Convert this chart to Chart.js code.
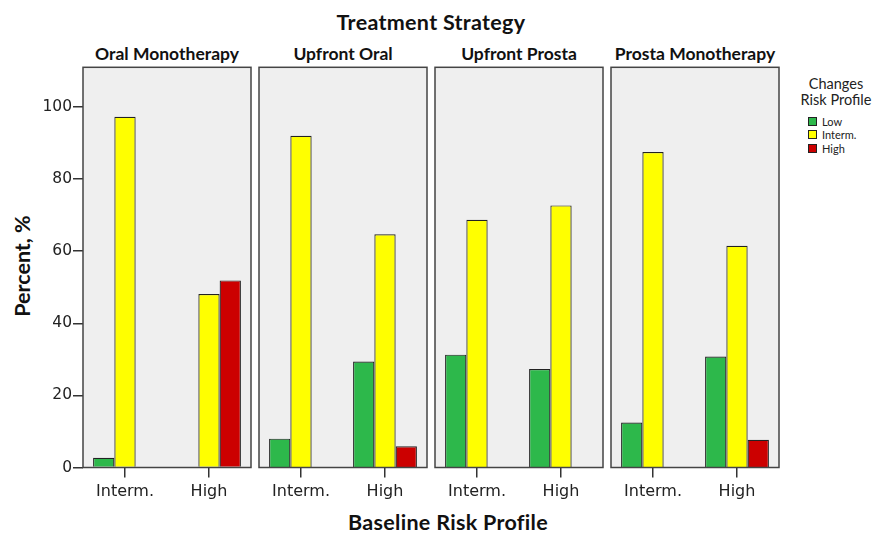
<!DOCTYPE html>
<html>
<head>
<meta charset="utf-8">
<script src="https://cdn.jsdelivr.net/npm/chart.js@4/dist/chart.umd.min.js"></script>
<style>
  body { margin:0; background:#fff; width:874px; height:533px; position:relative; overflow:hidden; font-family:Lato, "Open Sans", sans-serif; color:#111; }
  .lbl { position:absolute; white-space:nowrap; transform:translate(-50%,-50%); }
  canvas { position:absolute; }
  .legend { position:absolute; left:797px; top:76px; width:80px; font-family:Lato, sans-serif; color:#222; }
  .legend .ttl { text-align:center; font-size:14.5px; line-height:15.5px; margin-left:-2px; }
  .legend .item { position:relative; height:13.3px; font-size:11px; line-height:13px; padding-left:25px; }
  .legend .sw { position:absolute; left:11px; top:2px; width:9px; height:9px; border:1px solid #222; box-sizing:border-box; }
</style>
</head>
<body>
<div class="lbl" style="left:431px;top:22px;font-weight:bold;font-size:21.5px;letter-spacing:0.3px;">Treatment Strategy</div>
<div class="lbl" style="left:448px;top:522px;font-weight:bold;font-size:21.5px;letter-spacing:0.3px;">Baseline Risk Profile</div>
<div class="lbl" style="left:22px;top:266px;font-weight:bold;font-size:21.5px;transform:translate(-50%,-50%) rotate(-90deg);">Percent, %</div>
<div id="titles"></div>
<div class="legend" id="legend">
  <div class="ttl">Changes<br>Risk Profile</div>
  <div style="height:8px"></div>
</div>
<div id="charts"></div>
<script>
// Treatment strategies (one panel each) and the baseline risk groups on each x axis
const strategies = ['Oral Monotherapy', 'Upfront Oral', 'Upfront Prosta', 'Prosta Monotherapy'];
const baselineRisk = ['Interm.', 'High'];
const changeLabels = ['Low', 'Interm.', 'High'];

// Percent of patients by changed risk profile, per strategy: [baseline Interm., baseline High]
const lowPct    = [[2.7, 0],     [8.0, 29.4],  [31.3, 27.3], [12.5, 30.8]];
const intermPct = [[97.3, 48.1], [92.0, 64.7], [68.7, 72.7], [87.5, 61.5]];
const highPct   = [[0, 51.9],    [0, 5.9],     [0, 0],       [0, 7.7]];

const yTicks = [0, 20, 40, 60, 80, 100];

const changeColors = ['#2db84b', '#ffff00', '#cc0000'];
const seriesPct = [lowPct, intermPct, highPct];

// panel placement on the page
const panelLeft = [83, 259, 435, 611];
const panelWidth = 168;
const canvasTop = 60;
const canvasHeight = 440;

// legend
const legend = document.getElementById('legend');
changeLabels.forEach((name, i) => {
  const d = document.createElement('div');
  d.className = 'item';
  d.innerHTML = '<span class="sw" style="background:' + changeColors[i] + '"></span>' + name;
  legend.appendChild(d);
});

// panel titles
const titles = document.getElementById('titles');
strategies.forEach((s, i) => {
  const d = document.createElement('div');
  d.className = 'lbl';
  d.style.cssText = 'left:' + (panelLeft[i] + panelWidth / 2) + 'px;top:53px;font-weight:bold;font-size:17.5px;';
  d.textContent = s;
  titles.appendChild(d);
});

// grey panel background and dark frame
const panelFrame = {
  id: 'panelFrame',
  beforeDatasetsDraw(chart) {
    const a = chart.chartArea, ctx = chart.ctx;
    ctx.save();
    ctx.fillStyle = '#efefef';
    ctx.fillRect(a.left, a.top, a.right - a.left, a.bottom - a.top);
    ctx.restore();
  },
  afterDatasetsDraw(chart) {
    const a = chart.chartArea, ctx = chart.ctx;
    ctx.save();
    ctx.strokeStyle = '#444';
    ctx.lineWidth = 1.5;
    ctx.strokeRect(a.left, a.top, a.right - a.left, a.bottom - a.top);
    ctx.restore();
  }
};

Chart.defaults.devicePixelRatio = 1;
const host = document.getElementById('charts');

strategies.forEach((s, p) => {
  const first = p === 0;
  const axisW = first ? 83 : 2;
  const cv = document.createElement('canvas');
  const w = axisW + panelWidth + 2;
  cv.width = w; cv.height = canvasHeight;
  cv.style.left = (panelLeft[p] - axisW) + 'px';
  cv.style.top = canvasTop + 'px';
  cv.style.width = w + 'px'; cv.style.height = canvasHeight + 'px';
  host.appendChild(cv);

  new Chart(cv, {
    type: 'bar',
    data: {
      labels: baselineRisk,
      datasets: changeLabels.map((name, i) => ({
        label: name,
        data: seriesPct[i][p],
        backgroundColor: changeColors[i],
        borderColor: '#222',
        borderWidth: 1.2,
        categoryPercentage: 0.76,
        barPercentage: 1.0
      }))
    },
    options: {
      responsive: false,
      animation: false,
      layout: { padding: { top: 7.3, right: 2, bottom: 0, left: first ? 0 : 2 } },
      plugins: { legend: { display: false }, tooltip: { enabled: false } },
      scales: {
        x: {
          afterFit(scale) { scale.height = 32.5; scale.paddingLeft = 0; scale.paddingRight = 0; },
          border: { display: false },
          grid: { offset: false, drawOnChartArea: false, drawTicks: true, tickLength: 10, color: '#333', lineWidth: 1.5 },
          ticks: { color: '#222', padding: 4.5, maxRotation: 0, minRotation: 0, autoSkip: false,
                   font: { family: 'DejaVu Sans', size: 16 } }
        },
        y: {
          display: first,
          min: 0, max: 111,
          afterFit(scale) { scale.width = first ? 83 : 0; scale.paddingTop = 0; scale.paddingBottom = 0; },
          afterBuildTicks(scale) { scale.ticks = yTicks.map(v => ({ value: v })); },
          border: { display: false },
          grid: { drawOnChartArea: false, drawTicks: true, tickLength: 10, color: '#333', lineWidth: 1.5 },
          ticks: { color: '#222', padding: 1, font: { family: 'DejaVu Sans', size: 15.5 } }
        }
      }
    },
    plugins: [panelFrame]
  });
});
</script>
</body>
</html>
